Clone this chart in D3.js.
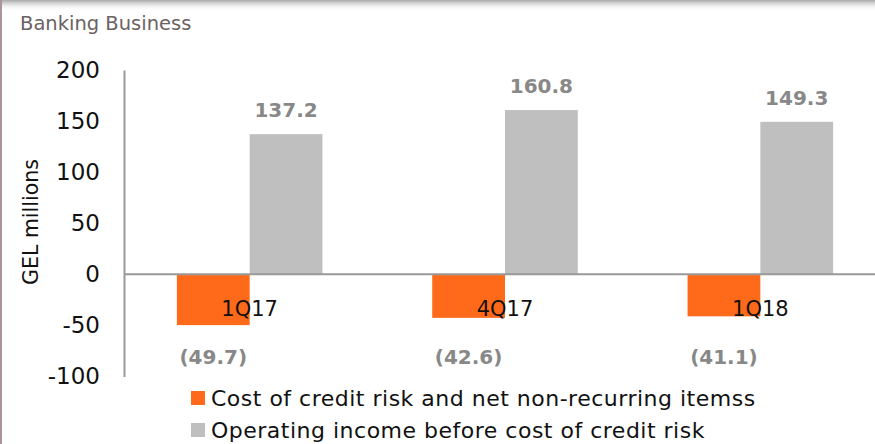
<!DOCTYPE html>
<html><head><meta charset="utf-8">
<script src="https://cdn.jsdelivr.net/npm/d3@7"></script>
<style>body{margin:0;background:#fff;overflow:hidden}svg{display:block}text{font-family:"DejaVu Sans",sans-serif}</style>
</head><body>
<script>
const categories = ["1Q17", "4Q17", "1Q18"];
const costValues = [-49.7, -42.6, -41.1];
const incomeValues = [137.2, 160.8, 149.3];
const costLabels = ["(49.7)", "(42.6)", "(41.1)"];
const incomeLabels = ["137.2", "160.8", "149.3"];
const yTicks = [200, 150, 100, 50, 0, -50, -100];
const seriesNames = ["Cost of credit risk and net non-recurring itemss", "Operating income before cost of credit risk"];
const colors = ["#ff6a1a", "#bfbfbf"];

const W = 875, H = 444;
const svg = d3.select("body").append("svg").attr("width", W).attr("height", H);
const defs = svg.append("defs");
const g1 = defs.append("linearGradient").attr("id","sh").attr("x1",0).attr("x2",0).attr("y1",0).attr("y2",1);
g1.append("stop").attr("offset",0).attr("stop-color","#a8a8a8");
g1.append("stop").attr("offset",1).attr("stop-color","#ffffff").attr("stop-opacity",0);
svg.append("rect").attr("x",0).attr("y",0).attr("width",W).attr("height",11).attr("fill","url(#sh)");
svg.append("rect").attr("x",0).attr("y",0).attr("width",2).attr("height",H).attr("fill","#a8969c");

svg.append("text").attr("x",20).attr("y",30).attr("font-size",19.5).attr("fill","#6b6262").text("Banking Business");

const y = d3.scaleLinear().domain([-100, 200]).range([376.5, 70]);
const x0 = d3.scaleBand().domain(categories).range([122, 888]).paddingInner(0.43).paddingOuter(0.215);
const x1 = d3.scaleBand().domain([0,1]).range([0, x0.bandwidth()]);

const yAxis = d3.axisLeft(y).tickValues(yTicks).tickSize(0).tickPadding(24).tickFormat(d => String(d));
const ya = svg.append("g").attr("transform","translate(124,0)").call(yAxis);
ya.select(".domain").attr("stroke","#999").attr("stroke-width",2);
ya.selectAll("text").attr("font-size",23).attr("fill","#111").attr("font-family","'DejaVu Sans',sans-serif");

svg.append("text").attr("transform","translate(38,222) rotate(-90)").attr("text-anchor","middle")
  .attr("font-size",20.5).attr("fill","#111").text("GEL millions");

const groups = svg.selectAll("g.cat").data(categories).join("g").attr("class","cat")
  .attr("transform", d => `translate(${x0(d)},0)`);
groups.append("rect").attr("x", x1(0)).attr("width", x1.bandwidth())
  .attr("y", (d,i) => y(0)).attr("height", (d,i) => y(costValues[i]) - y(0)).attr("fill", colors[0]);
groups.append("rect").attr("x", x1(1)).attr("width", x1.bandwidth())
  .attr("y", (d,i) => y(incomeValues[i])).attr("height", (d,i) => y(0) - y(incomeValues[i])).attr("fill", colors[1]);

svg.append("line").attr("x1",124).attr("x2",W).attr("y1",y(0)).attr("y2",y(0)).attr("stroke","#999").attr("stroke-width",2);

groups.append("text").attr("x", x0.bandwidth()/2).attr("y", 316).attr("text-anchor","middle")
  .attr("font-size",21).attr("fill","#111").text(d => d);
groups.append("text").attr("x", x1(1)+x1.bandwidth()/2).attr("y",(d,i)=>y(incomeValues[i])-17).attr("text-anchor","middle")
  .attr("font-size",20).attr("font-weight","bold").attr("fill","#888").text((d,i)=>incomeLabels[i]);
groups.append("text").attr("x", x1(0)+x1.bandwidth()/2).attr("y",364).attr("text-anchor","middle")
  .attr("font-size",20).attr("font-weight","bold").attr("fill","#888").text((d,i)=>costLabels[i]);

const lg = svg.selectAll("g.lg").data(seriesNames).join("g").attr("class","lg")
  .attr("transform",(d,i)=>`translate(191,${391 + i*32})`);
lg.append("rect").attr("width",14).attr("height",14).attr("fill",(d,i)=>colors[i]);
lg.append("text").attr("x",20).attr("y",15).attr("font-size",22).attr("letter-spacing",0.5).attr("fill","#111").text(d=>d);
</script>
</body></html>
